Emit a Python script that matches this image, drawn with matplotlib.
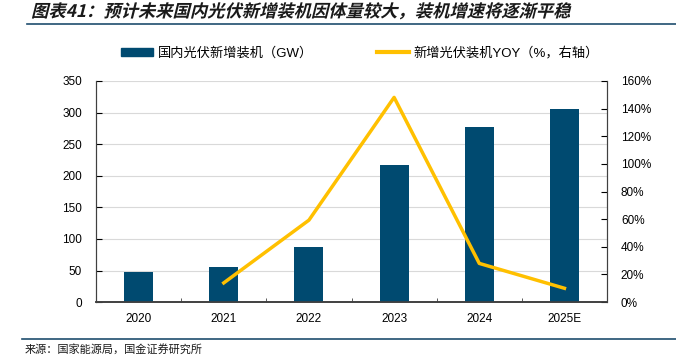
import matplotlib
matplotlib.use("Agg")
import matplotlib.pyplot as plt
from matplotlib.lines import Line2D
from matplotlib.textpath import TextPath
from matplotlib.font_manager import FontProperties
from matplotlib.patches import PathPatch
from matplotlib.transforms import Affine2D

plt.rcParams['font.family'] = ['Liberation Sans', 'Noto Sans CJK SC', 'DejaVu Sans']

# data
years = ['2020', '2021', '2022', '2023', '2024', '2025E']
capacity = [48.2, 54.9, 87.4, 216.9, 277.6, 305.0]     # GW
yoy_years = ['2021', '2022', '2023', '2024', '2025E']
yoy = [13.9, 59.3, 148.1, 28.0, 10.0]                  # %

title = '图表41：预计未来国内光伏新增装机因体量较大，装机增速将逐渐平稳'
source = '来源：国家能源局，国金证券研究所'
bar_label = '国内光伏新增装机（GW）'
line_label = '新增光伏装机YOY（%，右轴）'

navy = '#004A70'
gold = '#FFC000'

fig = plt.figure(figsize=(6.76, 3.55), dpi=100)
ax = fig.add_axes([0.142, 0.149, 0.756, 0.623])
ax2 = ax.twinx()

x = list(range(len(years)))
ax.bar(x, capacity, width=0.34, color=navy, zorder=3)
ax.set_xlim(-0.5, len(years) - 0.5)
ax.set_ylim(0, 350)
ax.set_yticks(range(0, 351, 50))
ax.set_xticks(x)
ax.set_xticklabels(years)
ax.set_xticks([i + 0.5 for i in x[:-1]], minor=True)
ax.tick_params(axis='x', which='major', length=0, labelsize=8.5, pad=8)
ax.tick_params(axis='x', which='minor', direction='in', length=3, color='#404040')
ax.tick_params(axis='y', direction='in', length=4, labelsize=8.5, pad=10)
ax.grid(axis='y', color='#d9d9d9', lw=0.8, zorder=0)
ax.set_axisbelow(True)

xi = [years.index(y) for y in yoy_years]
ax2.plot(xi, yoy, color=gold, lw=2.5, zorder=4)
ax2.set_ylim(0, 160)
ax2.set_yticks(range(0, 161, 20))
ax2.set_yticklabels([f'{v}%' for v in range(0, 161, 20)])
ax2.tick_params(axis='y', direction='in', length=4, labelsize=8.5, pad=10)

for a in (ax, ax2):
    a.spines['top'].set_visible(False)
    a.spines['left'].set_color('#404040')
    a.spines['right'].set_color('#404040')
    a.spines['bottom'].set_color('#404040')
    a.spines['bottom'].set_linewidth(1.2)

handles = [plt.Rectangle((0, 0), 1, 1, color=navy),
           Line2D([], [], color=gold, lw=3)]
fig.legend(handles, [bar_label, line_label], loc='center', bbox_to_anchor=(0.533, 1 - 53 / 355),
           ncol=2, frameon=False, handlelength=2.4, handleheight=0.6,
           columnspacing=4.8, handletextpad=0.4,
           prop={'family': ['Liberation Sans', 'Noto Sans CJK SC'], 'size': 9.5})

# italic-looking bold title via sheared text path (pixel units)
fp = FontProperties(family='Noto Sans CJK SC', weight='bold')
tp = TextPath((0, 0), title, prop=fp, size=17.3)
tr = Affine2D().skew_deg(14, 0).translate(31, 355 - 17)
fig.add_artist(PathPatch(tr.transform_path(tp), color='#1a1a1a', lw=0,
                         transform=None))

fig.add_artist(Line2D([27 / 676, 1], [1 - 24 / 355] * 2, color='#1f4e6e', lw=1.2))
fig.add_artist(Line2D([22 / 676, 1], [1 - 339 / 355] * 2, color='#1f4e6e', lw=1.2))
fig.text(25 / 676, 1 - 349 / 355, source, fontsize=8, va='center',
         family=['Noto Sans CJK SC'], color='#1a1a1a')

fig.savefig('out.png', dpi=100)
